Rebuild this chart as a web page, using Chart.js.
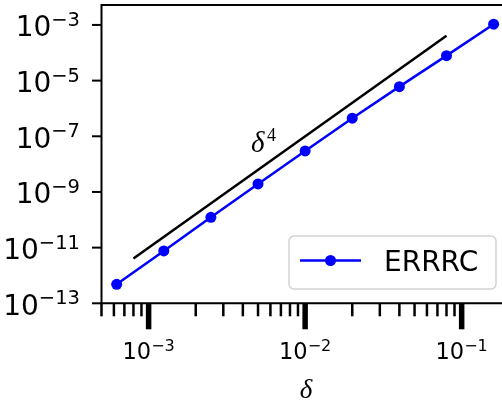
<!DOCTYPE html>
<html>
<head>
<meta charset="utf-8">
<script src="https://cdn.jsdelivr.net/npm/chart.js@4"></script>
<style>
  html, body { margin: 0; padding: 0; background: #fff; }
  #wrap { width: 502px; height: 405px; }
</style>
</head>
<body>
<div id="wrap"><canvas id="errChart" width="502" height="405"></canvas></div>
<script>
// step sizes and measured error
const deltaVals = [0.000625, 0.00125, 0.0025, 0.005, 0.01, 0.02, 0.04, 0.08, 0.16];
const errVals = [4.8e-13, 7.6e-12, 1.23e-10, 1.94e-9, 2.97e-8, 4.45e-7, 6.07e-6, 7.89e-5, 1.06e-3];

// reference slope line (delta^4)
const refDelta = [0.0008, 0.08];
const refErr = [4.1e-12, 4.1e-4];

// tick exponents
const yTickExps = [-13, -11, -9, -7, -5, -3];
const xTickExps = [-3, -2, -1];
const xMinorMults = [2, 3, 4, 5, 6, 7, 8, 9];

const seriesLabel = 'ERRRC';
const MINUS = '\u2212';

function drawPow(ctx, exp, x, baseline, baseSize, supSize, rise, align) {
  const base = '10';
  const sup = MINUS + Math.abs(exp);
  ctx.font = baseSize + 'px "DejaVu Sans"';
  const wb = ctx.measureText(base).width;
  ctx.font = supSize + 'px "DejaVu Sans"';
  const ws = ctx.measureText(sup).width;
  const total = wb + ws;
  let left = align === 'right' ? x - total : x - total / 2;
  ctx.textAlign = 'left';
  ctx.textBaseline = 'alphabetic';
  ctx.fillStyle = '#000';
  ctx.font = baseSize + 'px "DejaVu Sans"';
  ctx.fillText(base, left, baseline);
  ctx.font = supSize + 'px "DejaVu Sans"';
  ctx.fillText(sup, left + wb, baseline - rise);
}

const axesPlugin = {
  id: 'mplAxes',
  afterDraw(chart) {
    const ctx = chart.ctx;
    const area = chart.chartArea;
    const xs = chart.scales.x;
    const ys = chart.scales.y;
    ctx.save();
    ctx.strokeStyle = '#000';
    ctx.lineCap = 'butt';

    // spines (left, top, bottom)
    ctx.lineWidth = 2;
    ctx.beginPath();
    ctx.moveTo(area.left, area.top);
    ctx.lineTo(area.right, area.top);
    ctx.moveTo(area.left, area.top - 1);
    ctx.lineTo(area.left, area.bottom + 1);
    ctx.moveTo(area.left, area.bottom);
    ctx.lineTo(area.right, area.bottom);
    ctx.stroke();

    // y ticks and labels
    yTickExps.forEach(e => {
      const y = ys.getPixelForValue(Math.pow(10, e));
      ctx.lineWidth = 2;
      ctx.beginPath();
      ctx.moveTo(area.left - 9.5, y);
      ctx.lineTo(area.left, y);
      ctx.stroke();
      drawPow(ctx, e, 80, y + 11.5, 28, 19.5, 10.5, 'right');
    });

    // x minor ticks
    for (let e = -4; e <= -1; e++) {
      xMinorMults.forEach(m => {
        const v = m * Math.pow(10, e);
        if (v < xs.min - 1e-12 || v > xs.max) return;
        const x = xs.getPixelForValue(v);
        ctx.lineWidth = 2.5;
        ctx.beginPath();
        ctx.moveTo(x, area.bottom);
        ctx.lineTo(x, area.bottom + 13);
        ctx.stroke();
      });
    }
    // x major ticks and labels
    xTickExps.forEach(e => {
      const x = xs.getPixelForValue(Math.pow(10, e));
      ctx.lineWidth = 5.5;
      ctx.beginPath();
      ctx.moveTo(x, area.bottom);
      ctx.lineTo(x, area.bottom + 26);
      ctx.stroke();
      drawPow(ctx, e, x, 359, 22.5, 16, 8.5, 'center');
    });

    // axis label
    ctx.fillStyle = '#000';
    ctx.textAlign = 'center';
    ctx.textBaseline = 'alphabetic';
    ctx.font = 'italic 27px "Liberation Serif"';
    ctx.fillText('\u03b4', 306, 398);

    // slope annotation
    ctx.textAlign = 'left';
    ctx.font = 'italic 29px "Liberation Serif"';
    ctx.fillText('\u03b4', 251, 152);
    ctx.font = '18px "Liberation Serif"';
    ctx.fillText('4', 267, 141);

    // legend
    const lx = 289, ly = 236, lw = 207, lh = 53, r = 5;
    ctx.beginPath();
    ctx.moveTo(lx + r, ly);
    ctx.arcTo(lx + lw, ly, lx + lw, ly + lh, r);
    ctx.arcTo(lx + lw, ly + lh, lx, ly + lh, r);
    ctx.arcTo(lx, ly + lh, lx, ly, r);
    ctx.arcTo(lx, ly, lx + lw, ly, r);
    ctx.closePath();
    ctx.fillStyle = 'rgba(255,255,255,0.8)';
    ctx.fill();
    ctx.strokeStyle = '#d3d3d3';
    ctx.lineWidth = 1.5;
    ctx.stroke();

    ctx.strokeStyle = '#0000ff';
    ctx.lineWidth = 2.5;
    ctx.beginPath();
    ctx.moveTo(300, 260.5);
    ctx.lineTo(361, 260.5);
    ctx.stroke();
    ctx.fillStyle = '#0000ff';
    ctx.beginPath();
    ctx.arc(330.5, 260.5, 5.5, 0, Math.PI * 2);
    ctx.fill();

    ctx.fillStyle = '#000';
    ctx.font = '28px "DejaVu Sans"';
    ctx.fillText(seriesLabel, 384, 271);

    ctx.restore();
  }
};

new Chart(document.getElementById('errChart'), {
  type: 'scatter',
  data: {
    datasets: [
      {
        label: 'ref',
        data: refDelta.map((d, i) => ({ x: d, y: refErr[i] })),
        showLine: true,
        borderColor: '#000',
        borderWidth: 2.5,
        pointRadius: 0,
        pointHoverRadius: 0
      },
      {
        label: seriesLabel,
        data: deltaVals.map((d, i) => ({ x: d, y: errVals[i] })),
        showLine: true,
        borderColor: '#0000ff',
        backgroundColor: '#0000ff',
        borderWidth: 2.5,
        pointRadius: 5.5,
        pointBorderWidth: 0,
        pointHoverRadius: 5.5
      }
    ]
  },
  options: {
    responsive: false,
    devicePixelRatio: 1,
    animation: false,
    layout: { autoPadding: false, padding: { left: 101.5, top: 5, right: 0, bottom: 101.7 } },
    plugins: {
      legend: { display: false },
      tooltip: { enabled: false }
    },
    scales: {
      x: { type: 'logarithmic', display: false, min: 5e-4, max: 0.181 },
      y: { type: 'logarithmic', display: false, min: 1e-13, max: 5.2e-3 }
    }
  },
  plugins: [axesPlugin]
});
</script>
</body>
</html>
